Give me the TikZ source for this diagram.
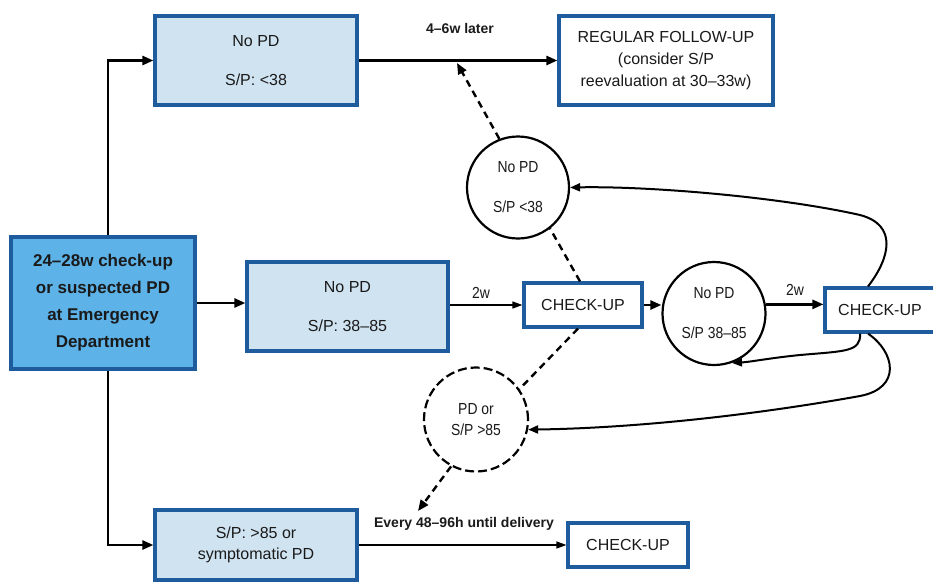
\documentclass[tikz,border=0pt]{standalone}
\usepackage{fontspec}
\setmainfont{Liberation Sans}
\newfontfamily\narrowfont{Liberation Sans}[FakeStretch=0.87]
\usetikzlibrary{arrows.meta,calc}
\definecolor{boxblue}{HTML}{1F5C9E}
\definecolor{mainfill}{HTML}{5DB2E8}
\definecolor{lightfill}{HTML}{D0E3F1}
\definecolor{ink}{HTML}{1A1A1A}
\tikzset{
  every node/.style={inner sep=0pt, align=center, text=ink},
  mainbox/.style={draw=boxblue, line width=3.2pt, fill=mainfill,
    font=\bfseries\fontsize{17}{27}\selectfont},
  lightbox/.style={draw=boxblue, line width=3.2pt, fill=lightfill,
    font=\fontsize{16}{19}\selectfont},
  whitebox/.style={draw=boxblue, line width=3.2pt, fill=white,
    font=\fontsize{16}{22}\selectfont},
  state/.style={circle, draw=black, line width=2.2pt, fill=white,
    minimum size=102pt, font=\narrowfont\fontsize{16}{18}\selectfont},
  flow/.style={draw=black, line width=2.5pt, -{Triangle[length=11pt,width=9pt]}},
  thinflow/.style={draw=black, line width=1.3pt, -{Triangle[length=10pt,width=7pt]}},
  dashline/.style={draw=black, line width=2.4pt, dash pattern=on 7pt off 5pt},
  curveflow/.style={draw=black, line width=2pt, -{Triangle[length=10pt,width=8pt]}},
  steplabel/.style={font=\bfseries\fontsize{14}{17}\selectfont},
  gaplabel/.style={font=\narrowfont\fontsize{16}{18}\selectfont}
}
\begin{document}
\begin{tikzpicture}[x=1pt, y=-1pt]
\useasboundingbox (0,0) rectangle (933,581);
\fill[white] (0,0) rectangle (933,581);

% boxes
\node[mainbox, minimum width=184pt, minimum height=132pt] (start) at (103,303)
  {24–28w check-up\\or suspected PD\\at Emergency\\Department};
\node[lightbox, minimum width=202pt, minimum height=89pt] (low) at (256,60.5)
  {No PD\\[20pt]S/P: <38};
\node[lightbox, minimum width=201pt, minimum height=89pt] (mid) at (347.5,306.5)
  {No PD\\[20pt]S/P: 38–85};
\node[lightbox, minimum width=202pt, minimum height=70pt, font=\fontsize{16}{21}\selectfont] (high) at (256,545)
  {S/P: >85 or\\symptomatic PD};
\node[whitebox, minimum width=214pt, minimum height=89pt] (regular) at (666,60.5)
  {REGULAR FOLLOW-UP\\(consider S/P\\reevaluation at 30–33w)};
\node[whitebox, minimum width=118pt, minimum height=44pt] (chkA) at (583,305) {CHECK-UP};
\node[whitebox, minimum width=110pt, minimum height=44pt] (chkB) at (880,310) {CHECK-UP};
\node[whitebox, minimum width=120pt, minimum height=44pt] (chkC) at (628,545) {CHECK-UP};

% decision circles
\node[state] (okLow) at (518,187.5) {No PD\\[22pt]S/P <38};
\node[state, minimum size=103pt] (okMid) at (714,313.5) {No PD\\[22pt]S/P 38–85};
\node[state, dash pattern=on 9pt off 4pt, minimum size=104pt, font=\narrowfont\fontsize{16}{21}\selectfont] (bad) at (476,419.5) {PD or\\S/P >85};

% branches out of the first visit
\draw[flow] ([xshift=5pt]start.north) |- (low.west);
\draw[flow] (start.east) -- (start.east -| mid.west);
\draw[flow] ([xshift=5pt]start.south) |- (high.west);

% routine branch
\draw[flow] (low.east) -- (regular.west);
\node[steplabel] (lateLbl) at (460,28) {4–6w later};
\coordinate (joinTop) at (457,63);

% intermediate branch
\draw[thinflow] (chkA.west -| mid.east) -- (chkA.west);
\node[gaplabel] (gapA) at (481,293) {2w};
\draw[flow] (chkA.east) -- (chkA.east -| okMid.west);
\draw[flow] (okMid.10) -- (okMid.10 -| chkB.west);
\node[gaplabel] (gapB) at (795,290) {2w};

% dashed exits from the first check-up
\draw[dashline] ($(chkA.north)+(-3,0)$) -- (okLow.-52);
\draw[dashline, -{Triangle[length=11pt,width=9pt]}] (okLow.111) -- (joinTop);
\draw[dashline] ($(chkA.south)+(-5,0)$) -- (bad.35);
\draw[dashline, -{Triangle[length=11pt,width=9pt]}] (bad.242) -- (418,511);

% loops back from the repeated check-up
\draw[curveflow] ($(chkB.north)+(-12,0)$) .. controls (890,258) and (898,225) .. (860,215)
  .. controls (780,197) and (650,186) .. (okLow.east);
\draw[curveflow] ($(chkB.south)+(-20,0)$) .. controls (861,352) and (845,351) .. (800,355)
  .. controls (770,358) and (750,362) .. (okMid.-70);
\draw[curveflow] ($(chkB.south)+(-12,0)$) .. controls (895,352) and (902,388) .. (860,396)
  .. controls (760,414) and (640,428) .. (bad.-11);

% urgent branch
\draw[thinflow] (chkC.west -| high.east) -- (chkC.west);
\node[steplabel] (urgLbl) at (464,524) {Every 48–96h until delivery};
\end{tikzpicture}
\end{document}
